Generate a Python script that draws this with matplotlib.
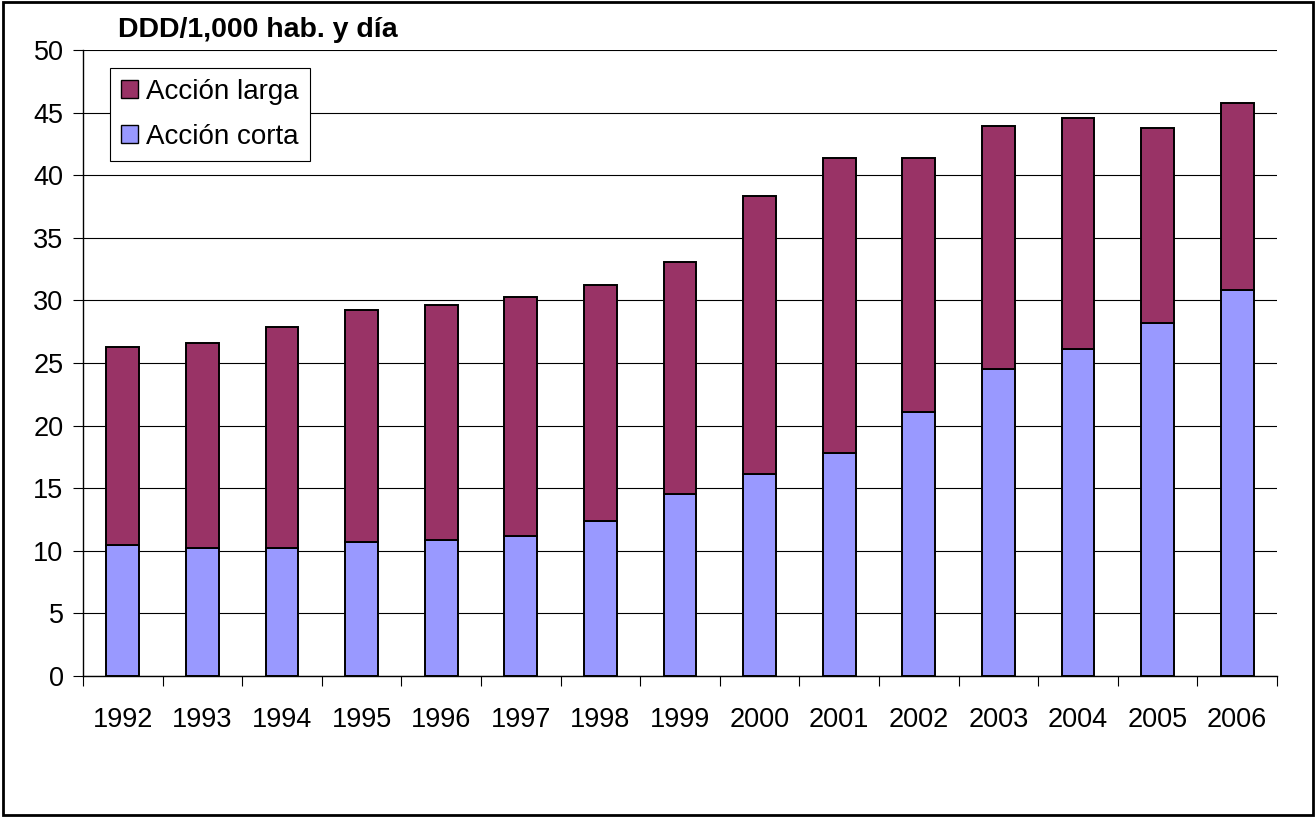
import numpy as np
import matplotlib.pyplot as plt
from matplotlib.patches import Rectangle, Patch

plt.rcParams['font.family'] = ['Liberation Sans', 'DejaVu Sans']

years = ['1992', '1993', '1994', '1995', '1996', '1997', '1998', '1999',
         '2000', '2001', '2002', '2003', '2004', '2005', '2006']
corta = [10.5, 10.2, 10.2, 10.7, 10.9, 11.2, 12.4, 14.5,
         16.1, 17.8, 21.1, 24.5, 26.1, 28.2, 30.8]
total = [26.3, 26.6, 27.9, 29.2, 29.6, 30.3, 31.2, 33.1,
         38.3, 41.4, 41.4, 43.9, 44.6, 43.8, 45.8]
larga = [t - c for t, c in zip(total, corta)]

c_larga = '#993366'
c_corta = '#9999FF'

fig = plt.figure(figsize=[13.16, 8.17], dpi=100)
ax = fig.add_axes([83/1316, 1 - 676/817, (1277-83)/1316, (676-50)/817])

x = np.arange(len(years))
ax.bar(x, corta, width=0.41, color=c_corta, edgecolor='black', linewidth=1.4, zorder=3)
ax.bar(x, larga, bottom=corta, width=0.41, color=c_larga, edgecolor='black', linewidth=1.4, zorder=3)

ax.set_xlim(-0.5, len(years) - 0.5)
ax.set_ylim(0, 50)
ax.set_yticks(np.arange(0, 51, 5))
ax.yaxis.grid(True, color='black', linewidth=0.8, zorder=0)
ax.set_axisbelow(True)

ax.set_xticks(x)
ax.set_xticklabels(years)
ax.set_xticks(np.arange(-0.5, len(years), 1), minor=True)
ax.tick_params(axis='x', which='major', length=0, pad=22, labelsize=19.5)
ax.tick_params(axis='x', which='minor', length=7, width=0.8, direction='out')
ax.tick_params(axis='y', length=7, width=0.8, pad=7, labelsize=19.5)

for s in ['top', 'right']:
    ax.spines[s].set_visible(False)
for s in ['left', 'bottom']:
    ax.spines[s].set_linewidth(1.0)

fig.text(118/1316, 1 - 30/817, 'DDD/1,000 hab. y día', fontsize=20.5,
         fontweight='bold', va='center', ha='left')

handles = [Patch(facecolor=c_larga, edgecolor='black', linewidth=1.0),
           Patch(facecolor=c_corta, edgecolor='black', linewidth=1.0)]
leg = ax.legend(handles, ['Acción larga', 'Acción corta'], loc='upper left',
                bbox_to_anchor=(0.0226, 0.972), fontsize=20, frameon=True,
                fancybox=False, framealpha=1, edgecolor='black',
                handlelength=0.6, handleheight=0.6, handletextpad=0.3,
                borderpad=0.4, labelspacing=0.68, borderaxespad=0)
leg.get_frame().set_linewidth(0.8)

fig.patches.append(Rectangle((0.002, 0.002), 0.996, 0.996, transform=fig.transFigure,
                             fill=False, edgecolor='black', linewidth=2))

fig.savefig('out.png', dpi=100)
